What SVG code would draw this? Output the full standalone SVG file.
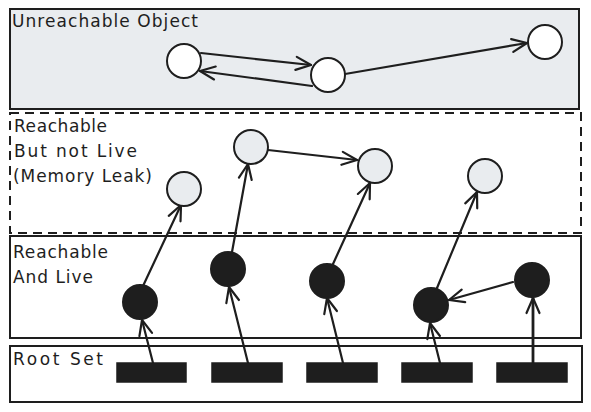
<svg xmlns="http://www.w3.org/2000/svg" width="591" height="412" viewBox="0 0 591 412">
<defs>
<marker id="arr" markerUnits="userSpaceOnUse" viewBox="-17 -9 19 18" refX="0" refY="0" markerWidth="19" markerHeight="18" orient="auto">
<path d="M -15 -6.5 L 0 0 L -15 6.5" fill="none" stroke="#1e1e1e" stroke-width="2.2" stroke-linecap="round" stroke-linejoin="round"/>
</marker>
</defs>
<style>
.box{stroke:#1e1e1e;stroke-width:2;fill:#ffffff}
.grey{fill:#e9ecef}
.dash{stroke-dasharray:9 6;fill:none}
.lbl{font-family:"DejaVu Sans","Liberation Sans",sans-serif;font-size:17px;fill:#1e1e1e}
.wn{fill:#ffffff;stroke:#1e1e1e;stroke-width:2}
.gn{fill:#e9ecef;stroke:#1e1e1e;stroke-width:2}
.bn{fill:#1e1e1e;stroke:#1e1e1e;stroke-width:2}
.root{fill:#1e1e1e;stroke:#1e1e1e;stroke-width:1.5}
.edge{fill:none;stroke:#1e1e1e;stroke-width:2.2;stroke-linecap:round;marker-end:url(#arr)}
</style>
<rect width="591" height="412" fill="#ffffff"/>
<g id="zone-unreachable">
<rect class="box grey" x="10" y="9" width="569" height="100"/>
<text class="lbl" x="12" y="27" textLength="186">Unreachable Object</text>
</g>
<g id="zone-leak">
<rect class="box dash" x="10" y="113" width="571" height="120"/>
<text class="lbl" x="14" y="132" textLength="93">Reachable</text>
<text class="lbl" x="14" y="157" textLength="123">But not Live</text>
<text class="lbl" x="13" y="182" textLength="139">(Memory Leak)</text>
</g>
<g id="zone-live">
<rect class="box" x="10" y="236" width="571" height="102"/>
<text class="lbl" x="13" y="258" textLength="95">Reachable</text>
<text class="lbl" x="13" y="283" textLength="80">And Live</text>
</g>
<g id="zone-root">
<rect class="box" x="10" y="346" width="572" height="56"/>
<text class="lbl" x="13" y="365" textLength="90">Root Set</text>
</g>
<g id="connectors">
<line class="edge" x1="201" y1="53" x2="311" y2="65"/>
<line class="edge" x1="312" y1="86" x2="200" y2="71"/>
<line class="edge" x1="345" y1="74" x2="527" y2="43"/>
<line class="edge" x1="268" y1="150" x2="357" y2="160"/>
<line class="edge" x1="143" y1="286" x2="181" y2="205"/>
<line class="edge" x1="232" y1="252" x2="248" y2="164"/>
<line class="edge" x1="333" y1="264" x2="370" y2="183"/>
<line class="edge" x1="437" y1="288" x2="477" y2="192"/>
<line class="edge" x1="153" y1="363" x2="142" y2="320"/>
<line class="edge" x1="248" y1="363" x2="229" y2="287"/>
<line class="edge" x1="343" y1="363" x2="327" y2="298"/>
<line class="edge" x1="440" y1="363" x2="430" y2="323"/>
<line class="edge" x1="533" y1="363" x2="533" y2="298" style="stroke-width:2.8"/>
<line class="edge" x1="513" y1="282" x2="449" y2="300"/>
</g>
<g id="node-u1"><circle class="wn" cx="184" cy="61" r="17"/></g>
<g id="node-u2"><circle class="wn" cx="328" cy="75" r="17"/></g>
<g id="node-u3"><circle class="wn" cx="545" cy="42" r="17"/></g>
<g id="node-l1"><circle class="gn" cx="184" cy="189" r="17"/></g>
<g id="node-l2"><circle class="gn" cx="251" cy="147" r="17"/></g>
<g id="node-l3"><circle class="gn" cx="375" cy="166" r="17"/></g>
<g id="node-l4"><circle class="gn" cx="485" cy="176" r="17"/></g>
<g id="node-a1"><circle class="bn" cx="140" cy="302" r="17"/></g>
<g id="node-a2"><circle class="bn" cx="228" cy="269" r="17"/></g>
<g id="node-a3"><circle class="bn" cx="327" cy="281" r="17"/></g>
<g id="node-a4"><circle class="bn" cx="431" cy="305" r="17"/></g>
<g id="node-a5"><circle class="bn" cx="532" cy="280" r="17"/></g>
<g id="root-1"><rect class="root" x="117" y="363" width="69" height="19"/></g>
<g id="root-2"><rect class="root" x="212" y="363" width="70" height="19"/></g>
<g id="root-3"><rect class="root" x="307" y="363" width="70" height="19"/></g>
<g id="root-4"><rect class="root" x="402" y="363" width="70" height="19"/></g>
<g id="root-5"><rect class="root" x="497" y="363" width="70" height="19"/></g>
</svg>
